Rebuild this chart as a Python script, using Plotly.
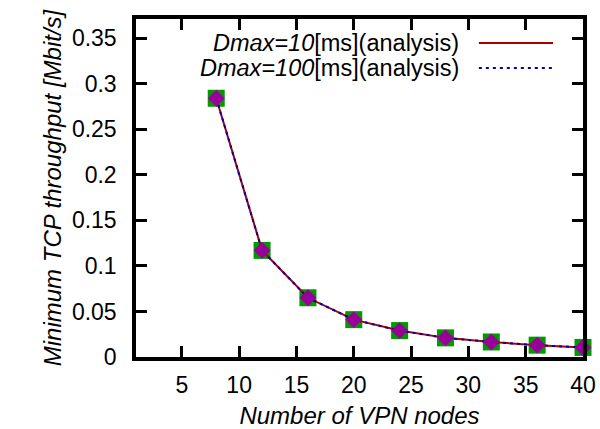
import plotly.graph_objects as go

# Data
nodes = [8, 12, 16, 20, 24, 28, 32, 36, 40]
thr_d10 = [0.284, 0.117, 0.065, 0.041, 0.029, 0.021, 0.0165, 0.013, 0.0105]
thr_d100 = [0.284, 0.117, 0.065, 0.041, 0.029, 0.021, 0.0165, 0.013, 0.0105]
sim_pts = [0.284, 0.117, 0.065, 0.041, 0.029, 0.021, 0.0165, 0.013, 0.0105]

x_ticks = [5, 10, 15, 20, 25, 30, 35, 40]
y_ticks = [0, 0.05, 0.1, 0.15, 0.2, 0.25, 0.3, 0.35]
y_ticktext = ["0", "0.05", "0.1", "0.15", "0.2", "0.25", "0.3", "0.35"]

legend_labels = ["<i>Dmax=10</i>[ms](analysis)", "<i>Dmax=100</i>[ms](analysis)"]

FONT = "Liberation Sans, Arial, Helvetica, sans-serif"
RED = "#a80000"
BLUE = "#0000b0"

fig = go.Figure()

fig.add_trace(go.Scatter(x=nodes, y=sim_pts, mode="markers",
                         marker=dict(symbol="square", size=17, color="#009900", line=dict(width=0)),
                         showlegend=False, hoverinfo="skip", cliponaxis=False))
fig.add_trace(go.Scatter(x=nodes, y=thr_d10, mode="lines",
                         line=dict(color=RED, width=2), showlegend=False))
fig.add_trace(go.Scatter(x=nodes, y=thr_d100, mode="lines",
                         line=dict(color=BLUE, width=2, dash="3px,4px"), showlegend=False))
fig.add_trace(go.Scatter(x=nodes, y=sim_pts, mode="markers",
                         marker=dict(symbol="diamond", size=13, color="#990099", line=dict(width=0)),
                         showlegend=False, hoverinfo="skip", cliponaxis=False))

# gnuplot-style legend: right-aligned text with line sample to the right
leg_y = [0.929, 0.855]
leg_styles = [dict(color=RED, width=2), dict(color=BLUE, width=2, dash="3px,4px")]
for lab, yy, st in zip(legend_labels, leg_y, leg_styles):
    fig.add_annotation(x=0.728, y=yy, xref="paper", yref="paper", text=lab,
                       showarrow=False, xanchor="right", yanchor="middle",
                       font=dict(family=FONT, size=23.5, color="black"))
    fig.add_shape(type="line", xref="paper", yref="paper", x0=0.767, x1=0.933,
                  y0=yy, y1=yy, line=st)

axis_common = dict(showline=True, linecolor="black", linewidth=3.5, mirror="ticks",
                   ticks="inside", ticklen=11, tickwidth=3, tickcolor="black",
                   showgrid=False, zeroline=False,
                   tickfont=dict(family=FONT, size=23, color="black"))

fig.update_xaxes(range=[1, 40], tickvals=x_ticks, ticklabelstandoff=5,
                 title=dict(text="<i>Number of VPN nodes</i>", font=dict(family=FONT, size=24, color="black"), standoff=16),
                 **axis_common)
fig.update_yaxes(range=[0, 0.371], tickvals=y_ticks, ticktext=y_ticktext, ticklabelstandoff=11,
                 title=dict(text="<i>Minimum TCP throughput [Mbit/s]</i>", font=dict(family=FONT, size=24, color="black"), standoff=4),
                 **axis_common)

fig.update_layout(width=600, height=429, plot_bgcolor="white", paper_bgcolor="white",
                  margin=dict(l=136, r=17, t=19, b=72, autoexpand=False), showlegend=False,
                  font=dict(family=FONT, size=23, color="black"))

# remove the default 8px page margin so the figure fills the 600x429 window exactly
fig.write_html("out.html", config={"displayModeBar": False},
               post_script="document.body.style.margin='0';document.body.style.overflow='hidden';")
